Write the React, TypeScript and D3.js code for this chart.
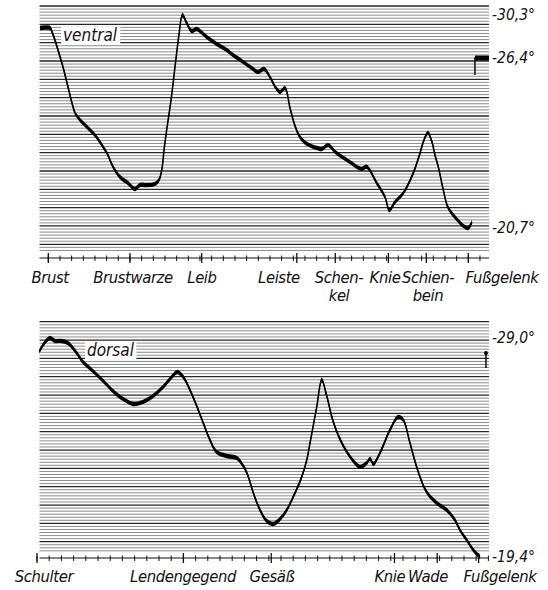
import React from 'react';
import * as d3 from 'd3';

// Ventral record: position along the body (axis units) and skin temperature (°C)
const ventralPos = [
  -0.71, 0.15, 0.32, 0.57, 0.83, 1.26, 1.69, 2.03, 2.29, 2.72, 3.23, 3.83, 4.26, 4.69, 5.03, 5.55,
  6.15, 6.83, 7.43, 7.86, 8.54, 9.14, 9.49, 9.75, 9.92, 10.17, 10.52, 10.86, 11.2, 11.5, 11.86,
  12.29, 12.72, 13.0, 13.58, 14.43, 15.29, 15.83, 16.69, 17.55, 17.97, 18.49, 19.0, 19.52, 19.86,
  20.29, 20.72, 21.15, 21.57, 22.17, 23.03, 23.46, 23.97, 24.72, 25.86, 26.86, 27.29, 28.15,
  28.86, 29.23, 29.72, 30.43, 31.28, 31.86, 32.2, 32.54, 32.89, 33.14, 33.43, 33.86, 34.28, 35.0,
  35.57, 36.0, 36.31,
];
const ventralTemp = [
  29.12, 29.12, 28.76, 28.03, 27.13, 26.1, 25.43, 24.89, 24.56, 24.32, 24.12, 23.89, 23.68, 23.42,
  23.21, 22.75, 22.41, 22.21, 22.01, 22.14, 22.14, 22.18, 22.31, 22.71, 23.32, 24.05, 24.99, 26.1,
  28.49, 30.3, 29.57, 28.85, 29.03, 28.85, 28.3, 27.67, 27.13, 26.67, 26.27, 26.03, 25.93, 26.03,
  25.76, 25.39, 25.26, 25.39, 24.72, 24.12, 23.75, 23.52, 23.38, 23.35, 23.48, 23.21, 22.91,
  22.68, 22.75, 22.21, 21.74, 21.3, 21.57, 21.87, 22.54, 23.21, 23.65, 23.89, 23.58, 23.15, 22.75,
  21.97, 21.37, 21.0, 20.77, 20.7, 20.9,
];
// Reference mark drawn at the right edge of the ventral record
const ventralRefPos = [36.57, 36.57, 37.77];
const ventralRefTemp = [25.83, 26.4, 26.4];
const ventralValueLabels = [30.3, 26.4, 20.7];

const ventralCategories = ['Brust', 'Brustwarze', 'Leib', 'Leiste', 'Schen-|kel', 'Knie', 'Schien-|bein', 'Fußgelenk'];
const ventralLabelPos = [0.15, 7.26, 13.17, 19.77, 24.92, 28.86, 32.55, 38.89];
const ventralMajorTicks = [0, 7, 13.15, 21.3, 24.6, 29.15, 32.4, 36];

// Dorsal record
const dorsalPos = [
  0.19, 0.49, 0.82, 1.07, 1.48, 1.97, 2.54, 3.25, 3.77, 4.59, 5.41, 6.23, 7.05, 7.87, 8.69, 9.51,
  10.33, 11.04, 11.5, 11.99, 12.54, 13.09, 13.63, 14.18, 14.73, 15.55, 16.37, 16.91, 17.3, 17.73,
  18.28, 18.83, 19.37, 19.84, 20.47, 21.15, 21.7, 22.11, 22.38, 22.93, 23.34, 23.75, 24.29, 25.11,
  25.93, 26.48, 27.02, 27.3, 27.57, 28.11, 28.93, 29.61, 30.02, 30.57, 31.25, 31.94, 32.76, 33.58,
  34.26, 34.67, 35.22, 35.76, 36.31,
];
const dorsalTemp = [
  28.4, 28.69, 28.91, 29.0, 28.87, 28.87, 28.78, 28.34, 27.95, 27.55, 27.12, 26.68, 26.33, 26.11,
  26.2, 26.46, 26.85, 27.29, 27.51, 27.29, 26.72, 26.02, 25.27, 24.53, 24.0, 23.83, 23.74, 23.39,
  22.95, 22.21, 21.46, 20.98, 20.85, 21.02, 21.46, 22.21, 22.91, 23.65, 24.4, 25.98, 27.16, 26.46,
  25.32, 24.27, 23.61, 23.35, 23.52, 23.7, 23.48, 23.96, 24.97, 25.54, 25.41, 24.4, 23.13, 22.25,
  21.77, 21.46, 21.02, 20.58, 20.15, 19.71, 19.4,
];
const dorsalRefPos = [36.8, 36.8];
const dorsalRefTemp = [27.69, 28.34];
const dorsalValueLabels = [29.0, 19.4];

const dorsalCategories = ['Schulter', 'Lendengegend', 'Gesäß', 'Knie', 'Wade', 'Fußgelenk'];
const dorsalLabelPos = [0.57, 11.97, 19.26, 28.93, 32.05, 37.95];
const dorsalMajorTicks = [0, 12, 19.2, 29.3, 32.8, 36.2];

const W = 548;
const H = 590;
const FONT = "'DejaVu Sans', 'Liberation Sans', sans-serif";
const PEN = 4.4; // vertical extent of the recording pen

type Pt = { x: number; t: number };

const zip = (xs: number[], ts: number[]): Pt[] => xs.map((x, i) => ({ x, t: ts[i] }));
const fmt = (v: number) => '-' + v.toFixed(1).replace('.', ',') + '°';

interface PanelProps {
  x: d3.ScaleLinear<number, number>;
  y: d3.ScaleLinear<number, number>;
  paper: d3.ScaleLinear<number, number>;
  paperFrom: number;
  paperTo: number;
  left: number;
  right: number;
  axisY: number;
  series: Pt[];
  refMark: Pt[];
  valueLabels: number[];
  categories: string[];
  labelPos: number[];
  majorTicks: number[];
  minorTicks: number[];
  title: string;
  titleX: number;
  titleY: number;
  labelY: number;
}

function Panel(p: PanelProps) {
  const line = d3
    .line<Pt>()
    .x((d) => p.x(d.x))
    .y((d) => p.y(d.t))
    .curve(d3.curveCatmullRom.alpha(0.5));
  const band = d3
    .area<Pt>()
    .x((d) => p.x(d.x))
    .y0((d) => p.y(d.t) - PEN / 2)
    .y1((d) => p.y(d.t) + PEN / 2)
    .curve(d3.curveCatmullRom.alpha(0.5));
  const refLine = d3
    .line<Pt>()
    .x((d) => p.x(d.x))
    .y((d) => p.y(d.t));

  // ruled paper: heavy line each division, five fine lines between
  const rulings: { v: number; major: boolean }[] = [];
  for (let k = Math.round(p.paperFrom * 6); k <= Math.round(p.paperTo * 6); k++) {
    rulings.push({ v: k / 6, major: k % 6 === 0 });
  }

  return (
    <g>
      {rulings.map((r, i) => (
        <line
          key={i}
          x1={p.left}
          x2={p.right}
          y1={p.paper(r.v)}
          y2={p.paper(r.v)}
          stroke={r.major ? '#262626' : '#858585'}
          strokeWidth={r.major ? 1.3 : 0.95}
        />
      ))}

      {/* title on a cleared patch of paper */}
      <rect x={p.titleX - 2} y={p.titleY - 14} width={p.title.length * 7.9 + 4} height={18} fill="#fff" />
      <text
        x={p.titleX}
        y={p.titleY}
        fontFamily={FONT}
        fontStyle="italic"
        fontStretch="condensed"
        fontSize={17}
        fill="#111"
      >
        {p.title}
      </text>

      <path d={band(p.series) || ''} fill="#000" />
      <path d={line(p.series) || ''} fill="none" stroke="#000" strokeWidth={1.6} strokeLinejoin="round" />

      <path d={refLine(p.refMark) || ''} fill="none" stroke="#000" strokeWidth={1.4} />
      <path d={refLine(p.refMark.slice(1)) || ''} fill="none" stroke="#000" strokeWidth={5} />
      {p.refMark.length === 2 && (
        <circle cx={p.x(p.refMark[1].x)} cy={p.y(p.refMark[1].t)} r={2} fill="#000" />
      )}

      {/* temperature readings at the right margin */}
      {p.valueLabels.map((v, i) => (
        <text
          key={i}
          x={p.right + 3}
          y={p.y(v) + 5}
          fontFamily={FONT}
          fontStyle="italic"
          fontStretch="condensed"
          fontSize={15.5}
          fill="#111"
        >
          {fmt(v)}
        </text>
      ))}

      {/* body axis */}
      <line x1={p.left} x2={p.right} y1={p.axisY} y2={p.axisY} stroke="#111" strokeWidth={1.2} />
      {p.minorTicks.map((t, i) => (
        <line key={'m' + i} x1={p.x(t)} x2={p.x(t)} y1={p.axisY - 2.5} y2={p.axisY + 3} stroke="#111" strokeWidth={1} />
      ))}
      {p.majorTicks.map((t, i) => (
        <line key={'M' + i} x1={p.x(t)} x2={p.x(t)} y1={p.axisY - 5} y2={p.axisY + 5} stroke="#111" strokeWidth={1.3} />
      ))}
      {p.categories.map((c, i) => (
        <text
          key={'c' + i}
          x={p.x(p.labelPos[i])}
          y={p.labelY}
          textAnchor="middle"
          fontFamily={FONT}
          fontStyle="italic"
          fontStretch="condensed"
          fontSize={16.5}
          letterSpacing={-0.4}
          fill="#111"
        >
          {c.split('|').map((part, j) => (
            <tspan key={j} x={p.x(p.labelPos[i])} dy={j === 0 ? 0 : 18}>
              {part}
            </tspan>
          ))}
        </text>
      ))}
    </g>
  );
}

export default function App() {
  const left = 39.5;
  const right = 489;

  const xTop = d3.scaleLinear().domain([0, 36]).range([48.3, 468.3]);
  const yTop = d3.scaleLinear().domain([20.7, 26.4, 30.3]).range([228, 58, 15]);
  const paperTop = d3.scaleLinear().domain([0, 13]).range([244.3, 6]);

  const xBot = d3.scaleLinear().domain([0, 37]).range([37, 488.4]);
  const yBot = d3.scaleLinear().domain([19.4, 29.0]).range([557, 338]);
  const paperBot = d3.scaleLinear().domain([0, 12]).range([541.7, 321.7]);

  const ticksTop = d3.range(0, 38);
  const ticksBot = d3.range(0, 38);

  return (
    <svg
      width={W}
      height={H}
      viewBox={`0 0 ${W} ${H}`}
      style={{ position: 'absolute', left: 0, top: 0, background: '#fff' }}
    >
      <rect width={W} height={H} fill="#fff" />
      <Panel
        x={xTop}
        y={yTop}
        paper={paperTop}
        paperFrom={-1 / 3}
        paperTo={13}
        left={left}
        right={right}
        axisY={258}
        series={zip(ventralPos, ventralTemp)}
        refMark={zip(ventralRefPos, ventralRefTemp)}
        valueLabels={ventralValueLabels}
        categories={ventralCategories}
        labelPos={ventralLabelPos}
        majorTicks={ventralMajorTicks}
        minorTicks={ticksTop}
        title="ventral"
        titleX={63}
        titleY={41}
        labelY={283}
      />
      <Panel
        x={xBot}
        y={yBot}
        paper={paperBot}
        paperFrom={-0.5}
        paperTo={12}
        left={left}
        right={right}
        axisY={558}
        series={zip(dorsalPos, dorsalTemp)}
        refMark={zip(dorsalRefPos, dorsalRefTemp)}
        valueLabels={dorsalValueLabels}
        categories={dorsalCategories}
        labelPos={dorsalLabelPos}
        majorTicks={dorsalMajorTicks}
        minorTicks={ticksBot}
        title="dorsal"
        titleX={87}
        titleY={356}
        labelY={582}
      />
    </svg>
  );
}
